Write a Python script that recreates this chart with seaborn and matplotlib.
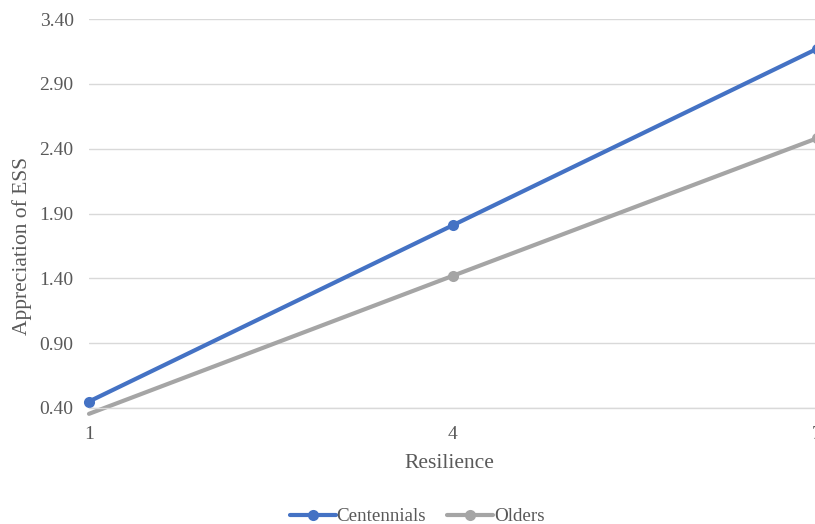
import matplotlib
matplotlib.use("Agg")
import matplotlib.pyplot as plt
import seaborn as sns
import pandas as pd

resilience = [1, 4, 7]
centennials = [0.45, 1.81, 3.17]
olders = [0.355, 1.42, 2.48]
series_names = ["Centennials", "Olders"]
y_ticks = [0.40, 0.90, 1.40, 1.90, 2.40, 2.90, 3.40]
x_ticks = [1, 4, 7]

df = pd.DataFrame({
    "Resilience": resilience * 2,
    "value": centennials + olders,
    "series": [series_names[0]] * 3 + [series_names[1]] * 3,
})

sns.set_theme(style="white")
plt.rcParams["font.family"] = ["Liberation Serif", "DejaVu Serif"]

fig = plt.figure(figsize=(8.15, 5.24), dpi=100)
ax = fig.add_axes([89 / 815, 1 - 408 / 524, (817 - 89) / 815, (408 - 19) / 524])

palette = {"Centennials": "#4472C4", "Olders": "#A5A5A5"}
sns.lineplot(data=df, x="Resilience", y="value", hue="series", palette=palette,
             marker="o", markersize=8, linewidth=3, markeredgewidth=0,
             ax=ax, legend=True)

for ln in ax.lines:
    ln.set_clip_on(False)
    ln.set_solid_capstyle("round")
# Olders first point lies outside the plot area: hide its marker
ax.lines[1].set_markevery([1, 2])

ax.set_xlim(1, 7)
ax.set_ylim(0.40, 3.40)
ax.set_yticks(y_ticks)
ax.set_yticklabels([f"{v:.2f}" for v in y_ticks])
ax.set_xticks(x_ticks)
ax.set_xticklabels([str(v) for v in x_ticks])
ax.grid(axis="y", color="#D9D9D9", linewidth=1)
ax.grid(axis="x", visible=False)
for s in ["left", "right", "top"]:
    ax.spines[s].set_visible(False)
ax.spines["bottom"].set_color("#D9D9D9")
ax.spines["bottom"].set_linewidth(1)
ax.tick_params(axis="both", length=0, labelsize=14, labelcolor="#595959")
ax.tick_params(axis="y", pad=11)
ax.tick_params(axis="x", pad=13)
ax.set_xlabel("Resilience", fontsize=15.5, color="#595959")
ax.xaxis.set_label_coords(0.5 - 4 / 728, -46 / 389)
ax.set_ylabel("Appreciation of ESS", fontsize=15.5, color="#595959")
ax.yaxis.set_label_coords((32 - 89) / 728, (408 - 246) / 389)

handles, labels = ax.get_legend_handles_labels()
ax.get_legend().remove()
fig.legend(handles, labels, loc="lower center", bbox_to_anchor=(0.512, -0.035), ncol=2,
           frameon=False, fontsize=13.7, handlelength=2.4, handletextpad=0.05,
           columnspacing=1.1, labelcolor="#595959")

fig.savefig("out.png", dpi=100)
